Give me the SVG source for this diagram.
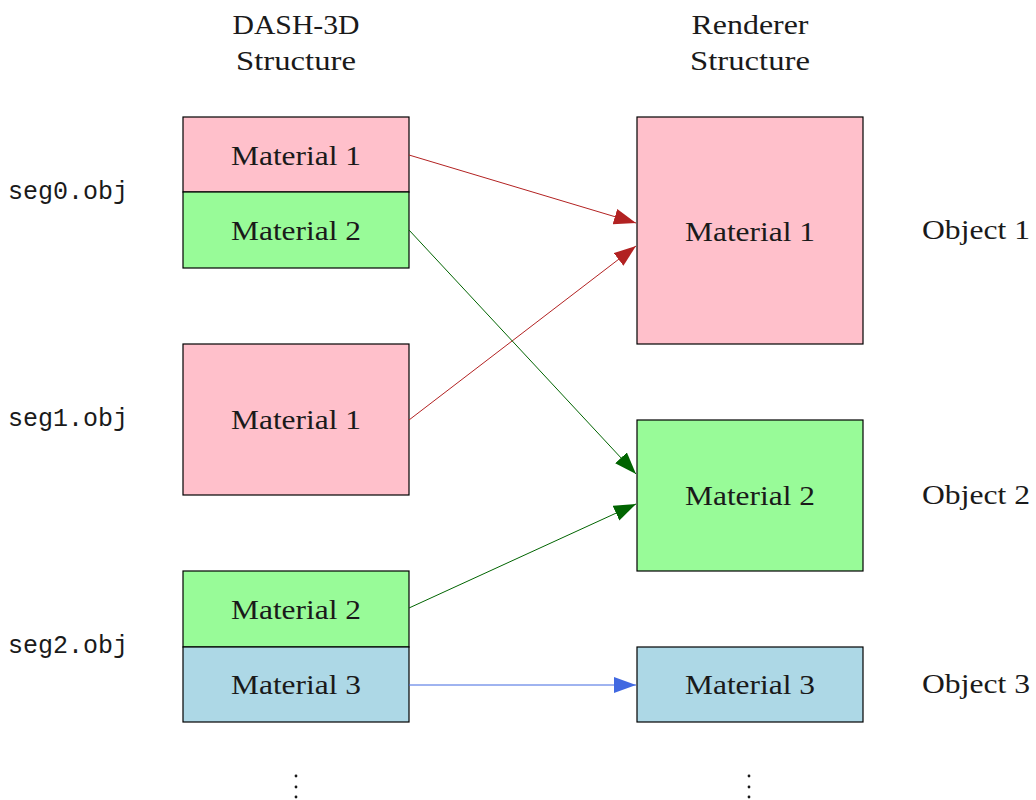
<svg xmlns="http://www.w3.org/2000/svg" width="1036" height="800" viewBox="0 0 1036 800">
<style>
.box{stroke:#000;stroke-width:1.2}
.pink{fill:#FFC0CB}
.green{fill:#98FB98}
.blue{fill:#ADD8E6}
.t{font-family:"Liberation Serif","Times New Roman",serif;font-size:27px;fill:#1a1a1a;text-anchor:middle}
.o{font-family:"Liberation Serif","Times New Roman",serif;font-size:27px;fill:#1a1a1a}
.m{font-family:"Liberation Mono","Courier New",monospace;font-size:25px;fill:#1a1a1a}
.c{fill:none;stroke-width:1}
</style>
<defs>
<marker id="ar" markerUnits="userSpaceOnUse" markerWidth="24" markerHeight="18" refX="22" refY="8" orient="auto"><path d="M0,0 L22,8 L0,16 z" fill="#B22222"/></marker>
<marker id="ag" markerUnits="userSpaceOnUse" markerWidth="24" markerHeight="18" refX="22" refY="8" orient="auto"><path d="M0,0 L22,8 L0,16 z" fill="#006400"/></marker>
<marker id="ab" markerUnits="userSpaceOnUse" markerWidth="24" markerHeight="18" refX="22" refY="8" orient="auto"><path d="M0,0 L22,8 L0,16 z" fill="#4169E1"/></marker>
</defs>
<g id="titles">
<text class="t" x="296" y="34" textLength="127" lengthAdjust="spacingAndGlyphs">DASH-3D</text>
<text class="t" x="296" y="70" textLength="120" lengthAdjust="spacingAndGlyphs">Structure</text>
<text class="t" x="750" y="34" textLength="117" lengthAdjust="spacingAndGlyphs">Renderer</text>
<text class="t" x="750" y="70" textLength="120" lengthAdjust="spacingAndGlyphs">Structure</text>
</g>
<g id="seg-labels">
<text class="m" x="8" y="199" textLength="120" lengthAdjust="spacingAndGlyphs">seg0.obj</text>
<text class="m" x="8" y="426" textLength="120" lengthAdjust="spacingAndGlyphs">seg1.obj</text>
<text class="m" x="8" y="653" textLength="120" lengthAdjust="spacingAndGlyphs">seg2.obj</text>
</g>
<g id="s0m1"><rect class="box pink" x="183" y="117" width="226" height="75"/><text class="t" x="296" y="165" textLength="130" lengthAdjust="spacingAndGlyphs">Material 1</text></g>
<g id="s0m2"><rect class="box green" x="183" y="192" width="226" height="76"/><text class="t" x="296" y="240" textLength="130" lengthAdjust="spacingAndGlyphs">Material 2</text></g>
<g id="s1m1"><rect class="box pink" x="183" y="344" width="226" height="151"/><text class="t" x="296" y="429" textLength="130" lengthAdjust="spacingAndGlyphs">Material 1</text></g>
<g id="s2m2"><rect class="box green" x="183" y="571" width="226" height="76"/><text class="t" x="296" y="619" textLength="130" lengthAdjust="spacingAndGlyphs">Material 2</text></g>
<g id="s2m3"><rect class="box blue" x="183" y="647" width="226" height="75"/><text class="t" x="296" y="694" textLength="130" lengthAdjust="spacingAndGlyphs">Material 3</text></g>
<g id="r1"><rect class="box pink" x="637" y="117" width="226" height="227"/><text class="t" x="750" y="241" textLength="130" lengthAdjust="spacingAndGlyphs">Material 1</text></g>
<g id="r2"><rect class="box green" x="637" y="420" width="226" height="151"/><text class="t" x="750" y="505" textLength="130" lengthAdjust="spacingAndGlyphs">Material 2</text></g>
<g id="r3"><rect class="box blue" x="637" y="647" width="226" height="75"/><text class="t" x="750" y="694" textLength="130" lengthAdjust="spacingAndGlyphs">Material 3</text></g>
<g id="objects">
<text class="o" x="922" y="239" textLength="108" lengthAdjust="spacingAndGlyphs">Object 1</text>
<text class="o" x="922" y="504" textLength="108" lengthAdjust="spacingAndGlyphs">Object 2</text>
<text class="o" x="922" y="693" textLength="108" lengthAdjust="spacingAndGlyphs">Object 3</text>
</g>
<g id="connectors">
<line class="c" x1="409" y1="155" x2="636" y2="223" stroke="#B22222" marker-end="url(#ar)"/>
<line class="c" x1="409" y1="420" x2="636" y2="246" stroke="#B22222" marker-end="url(#ar)"/>
<line class="c" x1="409" y1="230" x2="636" y2="474" stroke="#006400" marker-end="url(#ag)"/>
<line class="c" x1="409" y1="608" x2="636" y2="504" stroke="#006400" marker-end="url(#ag)"/>
<line class="c" x1="409" y1="685" x2="636" y2="685" stroke="#4169E1" marker-end="url(#ab)"/>
</g>
<g id="ellipses" fill="#1a1a1a">
<circle cx="296" cy="776" r="1.4"/><circle cx="296" cy="787" r="1.4"/><circle cx="296" cy="797" r="1.4"/>
<circle cx="749" cy="776" r="1.4"/><circle cx="749" cy="787" r="1.4"/><circle cx="749" cy="797" r="1.4"/>
</g>
</svg>
